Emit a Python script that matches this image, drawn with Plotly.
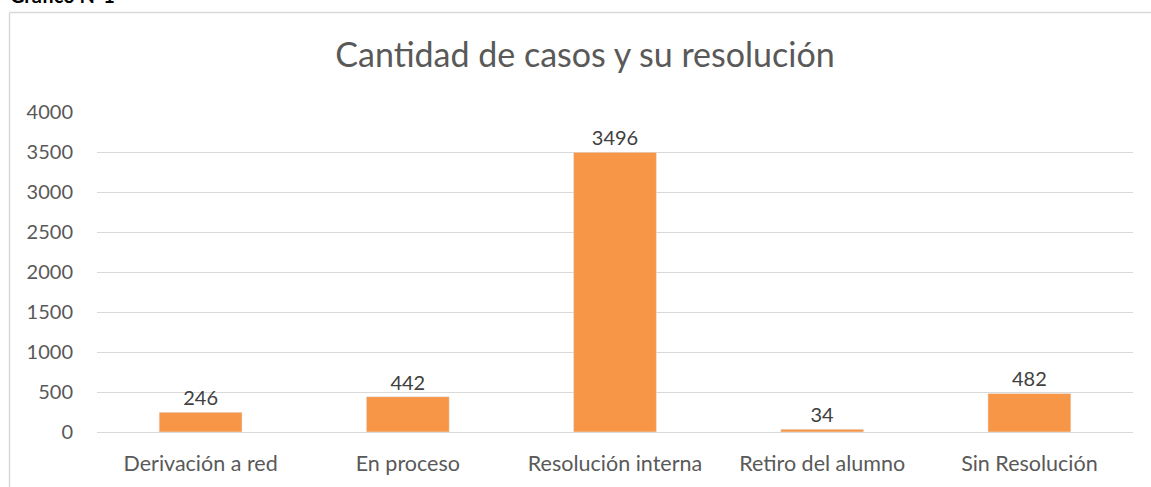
import plotly.graph_objects as go

# datos del gráfico
categorias = ["Derivación a red", "En proceso", "Resolución interna", "Retiro del alumno", "Sin Resolución"]
casos = [246, 442, 3496, 34, 482]
ticks_y = [0, 500, 1000, 1500, 2000, 2500, 3000, 3500, 4000]

W, H = 1151, 487
L, R, T, B = 97, 18, 112, 55
pw = W - L - R
ph = H - T - B

def px_x(x):
    return (x - L) / pw

def px_y(y):
    return 1 + (T - y) / ph

fig = go.Figure()
fig.add_trace(go.Bar(
    x=categorias,
    y=casos,
    marker_color="#f79646",
    width=0.4,
    text=[str(v) for v in casos],
    textposition="outside",
    textfont=dict(size=20, color="#404040"),
    cliponaxis=False,
))

fig.update_layout(
    width=W, height=H,
    margin=dict(l=L, r=R, t=T, b=B),
    paper_bgcolor="white",
    plot_bgcolor="white",
    font=dict(family="Lato, 'Open Sans', sans-serif", color="#595959", size=20),
    showlegend=False,
    title=dict(
        text="Cantidad de casos y su resolución",
        x=px_x(585), xanchor="center", xref="paper",
        y=1 - 55 / H, yanchor="middle",
        font=dict(size=34, color="#595959"),
    ),
)
fig.update_xaxes(showgrid=False, showline=False, ticks="", ticklabelstandoff=16,
                 automargin=False, tickfont=dict(size=21.5, color="#595959"))
fig.update_yaxes(
    range=[0, 4000], tickvals=ticks_y, showgrid=True, gridcolor="#d9d9d9", gridwidth=1,
    zeroline=True, zerolinecolor="#d9d9d9", zerolinewidth=1, showline=False, ticks="",
    automargin=False, ticklabelstandoff=23, tickfont=dict(size=20, color="#595959"),
)

# marco del área del gráfico (se corta a la derecha y abajo)
fig.add_shape(type="line", xref="paper", yref="paper",
              x0=px_x(9.5), x1=px_x(W + 5), y0=px_y(12.5), y1=px_y(12.5),
              line=dict(color="#d9d9d9", width=1.5))
fig.add_shape(type="line", xref="paper", yref="paper",
              x0=px_x(9.5), x1=px_x(9.5), y0=px_y(12.5), y1=px_y(H + 5),
              line=dict(color="#d9d9d9", width=1.5))

# título del documento, cortado arriba como en la imagen original
fig.add_annotation(text="<b>Gráfico N°1</b>", xref="paper", yref="paper",
                   x=px_x(8), y=px_y(9), xanchor="left", yanchor="bottom",
                   showarrow=False, font=dict(size=20, color="black"))

fig.write_html("out.html", config={"displayModeBar": False},
               post_script="document.body.style.margin='0';")
